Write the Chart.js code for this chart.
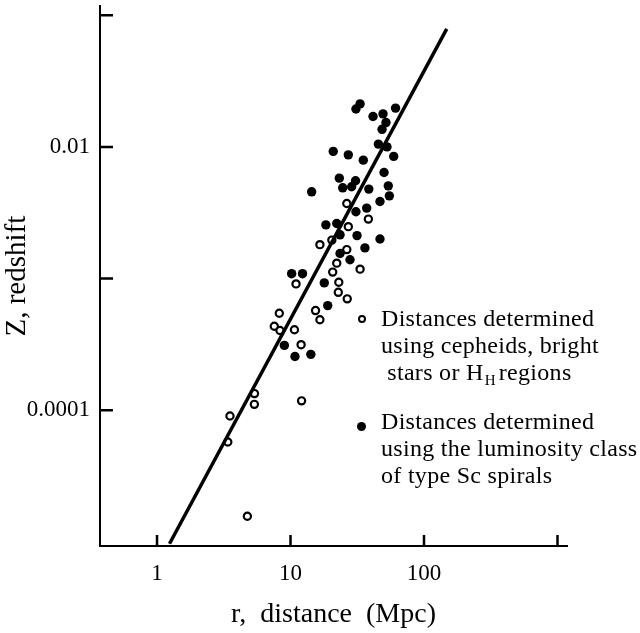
<!DOCTYPE html>
<html>
<head>
<meta charset="utf-8">
<script src="https://cdn.jsdelivr.net/npm/chart.js@4/dist/chart.umd.min.js"></script>
<style>
  body { margin: 0; background: #fff; }
  #wrap { position: relative; width: 640px; height: 633px; }
  .legend { position: absolute; font-family: "Liberation Serif", serif; font-size: 24px; letter-spacing: 0.3px; line-height: 27px; color: #000; white-space: nowrap; }
  .legend sub { font-size: 15px; vertical-align: -5px; margin: 0 3px 0 1px; }
  .mark { position: absolute; border-radius: 50%; box-sizing: border-box; }
</style>
</head>
<body>
<div id="wrap">
  <canvas id="my-chart" width="640" height="633"></canvas>
  <span class="mark" style="left:358px; top:315px; width:8px; height:8px; border:2px solid #000; background:#fff;"></span>
  <div class="legend" style="left:381px; top:305px;">Distances determined<br>using cepheids, bright<br>&nbsp;stars or H<sub>H</sub>regions</div>
  <span class="mark" style="left:357px; top:422px; width:9px; height:9px; background:#000;"></span>
  <div class="legend" style="left:381px; top:408px;">Distances determined<br>using the luminosity class<br>of type Sc spirals</div>
</div>
<script>
// distances (Mpc) and redshifts
const filledR = [30.9, 33.2, 41.5, 49.3, 61.2, 51.9, 48.5, 45.5, 52.8, 59.3,
  20.9, 27.1, 35.1, 50.2, 23.2, 30.7, 24.6, 28.7, 38.6, 54.0,
  55.0, 14.4, 46.8, 37.2, 30.9, 18.4, 22.2, 23.5, 31.5, 46.8,
  36.1, 23.5, 27.9, 10.2, 12.3, 17.9, 19.0, 8.99, 10.8, 14.2];
const filledZ = [0.0194, 0.0212, 0.0170, 0.0178, 0.0197, 0.0153, 0.0136, 0.0105, 0.0100, 0.00847,
  0.00924, 0.00870, 0.00793, 0.00639, 0.00579, 0.00553, 0.00489, 0.00498, 0.00478, 0.00506,
  0.00425, 0.00456, 0.00385, 0.00343, 0.00322, 0.00256, 0.00262, 0.00215, 0.00212, 0.00200,
  0.00171, 0.00155, 0.00139, 0.00109, 0.00109, 0.000928, 0.000624, 0.000311, 0.000256, 0.000266];

const openR = [26.4, 38.3, 27.1, 20.4, 16.6, 26.4, 22.2, 20.7, 33.2, 11.0,
  23.0, 22.8, 26.6, 15.4, 16.6, 8.24, 7.56, 8.34, 10.7, 12.0,
  5.37, 5.36, 12.1, 3.52, 3.39, 4.75];
const openZ = [0.00372, 0.00283, 0.00248, 0.00196, 0.00181, 0.00166, 0.00131, 0.00112, 0.00118, 0.000912,
  0.000938, 0.000787, 0.000702, 0.000572, 0.000487, 0.000546, 0.000435, 0.000404, 0.000409, 0.000315,
  0.000134, 0.000111, 0.000118, 0.0000905, 0.0000575, 0.0000157];

const fitR = [1.24, 148];
const fitZ = [0.0000097, 0.0787];

const xTickValues = [1, 10, 100, 1000];
const xTickLabels = ['1', '10', '100', ''];
const yTickValues = [0.0001, 0.001, 0.01, 0.1];
const yTickLabels = ['0.0001', '', '0.01', ''];

const toPoints = (xs, ys) => xs.map((v, i) => ({ x: v, y: ys[i] }));

// short tick marks pointing into the plot
const innerTicks = {
  id: 'innerTicks',
  afterDraw(chart) {
    const { ctx, scales: { x, y } } = chart;
    ctx.save();
    ctx.strokeStyle = '#000';
    ctx.lineWidth = 2.5;
    ctx.beginPath();
    x.ticks.forEach(t => {
      const px = x.getPixelForValue(t.value);
      ctx.moveTo(px, x.top);
      ctx.lineTo(px, x.top - 11);
    });
    y.ticks.forEach(t => {
      const py = y.getPixelForValue(t.value);
      ctx.moveTo(y.right, py);
      ctx.lineTo(y.right + 13, py);
    });
    ctx.stroke();
    ctx.restore();
  }
};

Chart.defaults.color = '#000';
Chart.defaults.font.family = '"Liberation Serif", serif';

const ctx = document.getElementById('my-chart');
const myChart = new Chart(ctx, {
  type: 'scatter',
  data: {
    datasets: [
      {
        data: toPoints(fitR, fitZ),
        showLine: true,
        borderColor: '#000',
        borderWidth: 3.5,
        pointRadius: 0
      },
      {
        data: toPoints(filledR, filledZ),
        pointRadius: 4.7,
        pointBackgroundColor: '#000',
        pointBorderColor: '#000',
        pointBorderWidth: 0
      },
      {
        data: toPoints(openR, openZ),
        pointRadius: 3.6,
        pointBackgroundColor: '#fff',
        pointBorderColor: '#000',
        pointBorderWidth: 2.2
      }
    ]
  },
  options: {
    responsive: false,
    animation: false,
    layout: { padding: { top: 5, right: 73, left: 0, bottom: 0 } },
    plugins: { legend: { display: false }, tooltip: { enabled: false } },
    scales: {
      x: {
        type: 'logarithmic',
        min: 0.374,
        max: 1178,
        bounds: 'data',
        grid: { display: false, drawTicks: false },
        border: { display: true, color: '#000', width: 2 },
        afterBuildTicks: s => { s.ticks = xTickValues.map(v => ({ value: v })); },
        afterFit: s => { s.height = 87; s.paddingLeft = 0; s.paddingRight = 0; },
        ticks: {
          autoSkip: false,
          maxRotation: 0,
          padding: 14,
          font: { size: 23 },
          callback: (v, i) => xTickLabels[i]
        },
        title: {
          display: true,
          text: 'r,  distance  (Mpc)',
          font: { size: 28 },
          padding: { top: 0, bottom: 2 }
        }
      },
      y: {
        type: 'logarithmic',
        min: 0.00000933,
        max: 0.117,
        bounds: 'data',
        grid: { display: false, drawTicks: false },
        border: { display: true, color: '#000', width: 2 },
        afterBuildTicks: s => { s.ticks = yTickValues.map(v => ({ value: v })); },
        afterFit: s => { s.width = 100; s.paddingTop = 0; s.paddingBottom = 0; },
        ticks: {
          autoSkip: false,
          padding: 10,
          font: { size: 23 },
          callback: (v, i) => yTickLabels[i]
        },
        title: {
          display: true,
          text: 'Z, redshift',
          font: { size: 29 },
          padding: { top: 0, bottom: 0 }
        }
      }
    }
  },
  plugins: [innerTicks]
});
</script>
</body>
</html>
